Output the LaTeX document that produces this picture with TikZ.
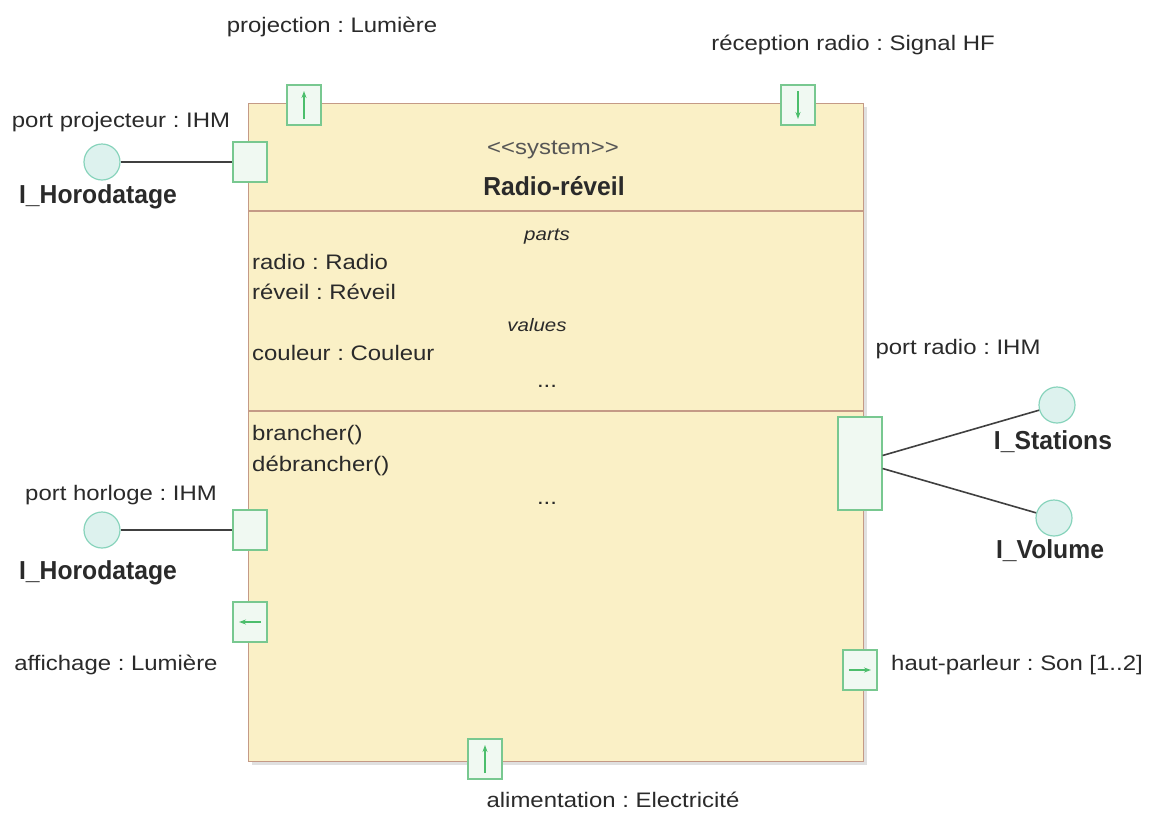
\documentclass[tikz,border=0pt]{standalone}
\usepackage{fontspec}
\setmainfont{Liberation Sans}[FakeStretch=1.14, BoldFeatures={FakeStretch=0.95}]
\usetikzlibrary{arrows.meta}
\definecolor{boxfill}{HTML}{FAF0C6}
\definecolor{boxline}{HTML}{C49A86}
\definecolor{portfill}{HTML}{F0F9F2}
\definecolor{portline}{HTML}{78C890}
\definecolor{circfill}{HTML}{DDF2EE}
\definecolor{circline}{HTML}{88D4BC}
\definecolor{arrowc}{HTML}{4CBE6C}
\definecolor{txt}{HTML}{2A2A2A}
\frenchspacing
\begin{document}
\begin{tikzpicture}[x=1pt,y=-1pt,
  port/.style={draw=portline, fill=portfill, line width=1.2pt, inner sep=0pt, minimum width=34pt, minimum height=40pt},
  iface/.style={circle, draw=circline, fill=circfill, line width=1.2pt, minimum size=36pt, inner sep=0pt},
  lbl/.style={font=\fontsize{21}{24}\selectfont, text=txt, inner sep=0pt},
  ilbl/.style={font=\fontsize{18}{22}\selectfont\itshape, text=txt, inner sep=0pt},
  blbl/.style={font=\fontsize{26}{30}\selectfont\bfseries, text=txt, inner sep=0pt},
  conn/.style={draw=black!75, line width=1.6pt},
  flow/.style={draw=arrowc, line width=1.2pt, -{Stealth[length=7pt,width=5pt]}}]
\useasboundingbox (0,0) rectangle (1157,815);
\fill[white] (0,0) rectangle (1157,815);
% shadow and block
\fill[black!12] (252,107) rectangle (867,765);
\node[draw=boxline, fill=boxfill, line width=1.2pt, inner sep=0pt, minimum width=615pt, minimum height=658pt, anchor=north west] (sys) at (248,103) {};
\draw[boxline, line width=1.2pt] (248,211) -- (863,211);
\draw[boxline, line width=1.2pt] (248,411) -- (863,411);
% compartment texts
\node[lbl, text=txt!80] (stereo) at (553,150) {{<}{<}system{>}{>}};
\node[blbl] (name) at (554,186) {Radio-réveil};
\node[ilbl] (parts) at (547,237) {parts};
\node[lbl, anchor=west] (p1) at (252,262) {radio : Radio};
\node[lbl, anchor=west] (p2) at (252,292) {réveil : Réveil};
\node[ilbl] (values) at (537,325) {values};
\node[lbl, anchor=west] (v1) at (252,353) {couleur : Couleur};
\node[lbl] (vdots) at (547,386) {...};
\node[lbl, anchor=west] (o1) at (252,435) {brancher()};
\node[lbl, anchor=west] (o2) at (252,466) {débrancher()};
\node[lbl] (odots) at (547,503) {...};
% ports
\node[port] (pproj) at (250,162) {};
\node[port] (pproject) at (304,105) {};
\node[port] (precep) at (798,105) {};
\node[port] (phorl) at (250,530) {};
\node[port] (paff) at (250,622) {};
\node[port, minimum width=44pt, minimum height=93pt] (pradio) at (860,463.5) {};
\node[port] (php) at (860,670) {};
\node[port] (palim) at (485,759) {};
% flow arrows inside ports
\draw[flow] ([yshift=-14pt]pproject.center) -- ([yshift=14pt]pproject.center);
\draw[flow] ([yshift=14pt]precep.center) -- ([yshift=-14pt]precep.center);
\draw[flow] ([xshift=11pt]paff.center) -- ([xshift=-11pt]paff.center);
\draw[flow] ([xshift=-11pt]php.center) -- ([xshift=11pt]php.center);
\draw[flow] ([yshift=-14pt]palim.center) -- ([yshift=14pt]palim.center);
% provided interfaces
\node[iface] (ih1) at (102,162) {};
\node[iface] (ih2) at (102,530) {};
\node[iface] (ist) at (1057,405) {};
\node[iface] (ivol) at (1054,518) {};
\draw[conn] (ih1) -- (pproj);
\draw[conn] (ih2) -- (phorl);
\draw[conn] ([yshift=8pt]pradio.east) -- (ist);
\draw[conn] ([yshift=-5pt]pradio.east) -- (ivol);
% external labels
\node[lbl] (lproj) at (332,27) {projection : Lumière};
\node[lbl] (lrecep) at (853,45) {réception radio : Signal HF};
\node[lbl] (lpproj) at (121,122) {port projecteur : IHM};
\node[blbl] (lih1) at (98,197) {I\_Horodatage};
\node[lbl] (lphorl) at (121,495) {port horloge : IHM};
\node[blbl] (lih2) at (98,573) {I\_Horodatage};
\node[lbl] (laff) at (116,665) {affichage : Lumière};
\node[lbl] (lpradio) at (958,349) {port radio : IHM};
\node[blbl] (list) at (1053,442) {I\_Stations};
\node[blbl] (livol) at (1050,551) {I\_Volume};
\node[lbl] (lhp) at (1017,665) {haut-parleur : Son [1..2]};
\node[lbl] (lalim) at (613,800) {alimentation : Electricité};
\end{tikzpicture}
\end{document}
